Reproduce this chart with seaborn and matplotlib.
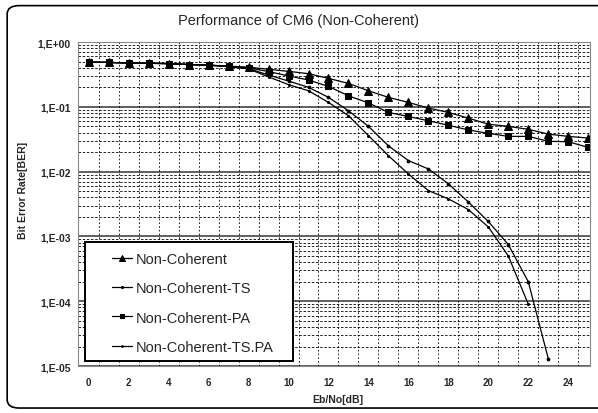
import matplotlib
matplotlib.use("Agg")
import matplotlib.pyplot as plt
import matplotlib.ticker as mticker
from matplotlib.patches import FancyBboxPatch, Rectangle
import numpy as np
import pandas as pd
import seaborn as sns

# Eb/No [dB] and BER values
ebno = list(range(26))
ber_nc = [0.49, 0.485, 0.475, 0.47, 0.465, 0.45, 0.44, 0.425, 0.41, 0.38,
          0.353, 0.325, 0.275, 0.23, 0.177, 0.14, 0.117, 0.096, 0.082, 0.067,
          0.054, 0.050, 0.045, 0.038, 0.035, 0.033]
ber_pa = [0.49, 0.485, 0.475, 0.47, 0.465, 0.45, 0.44, 0.42, 0.40, 0.35,
          0.30, 0.259, 0.207, 0.148, 0.115, 0.082, 0.071, 0.061, 0.052, 0.044,
          0.039, 0.035, 0.035, 0.0294, 0.0289, 0.0237]
ebno_ts = list(range(24))
ber_ts = [0.49, 0.485, 0.475, 0.47, 0.465, 0.45, 0.44, 0.42, 0.39, 0.31,
          0.25, 0.20, 0.14, 0.087, 0.050, 0.025, 0.0148, 0.011, 0.0065, 0.0034,
          0.0017, 0.00075, 0.0002, 0.000013]
ebno_tspa = list(range(23))
ber_tspa = [0.49, 0.485, 0.475, 0.47, 0.465, 0.45, 0.44, 0.42, 0.385, 0.29,
            0.22, 0.177, 0.117, 0.073, 0.036, 0.0176, 0.0092, 0.0051, 0.0038, 0.0026,
            0.0014, 0.0005, 0.00009]
labels = ["Non-Coherent", "Non-Coherent-TS", "Non-Coherent-PA", "Non-Coherent-TS.PA"]
ytick_labels = ["1,E+00", "1,E-01", "1,E-02", "1,E-03", "1,E-04", "1,E-05"]

sns.set_theme(style="white")
plt.rcParams["font.family"] = ["Liberation Sans", "DejaVu Sans"]

fig = plt.figure(figsize=(5.98, 4.14), dpi=100)
ax = fig.add_axes([0.130, 0.1135, 0.857, 0.7825])

series = [
    (ebno, ber_nc, "^", 5.5),
    (ebno_ts, ber_ts, ".", 4),
    (ebno, ber_pa, "s", 3.8),
    (ebno_tspa, ber_tspa, ".", 3),
]
for (xs, ys, mk, ms), lab in zip(series, labels):
    sns.lineplot(x=xs, y=ys, ax=ax, color="black", lw=0.9, marker=mk,
                 markersize=ms, markeredgecolor="black", label=lab)

ax.set_yscale("log")
ax.set_ylim(1e-5, 1)
ax.set_xlim(-0.55, 25.1)

# grid: solid at decades, dashed minors, dashed verticals between categories
for k in range(-5, 1):
    ax.axhline(10.0 ** k, color="#444444", lw=1.2, zorder=0)
for k in range(-5, 0):
    for m in range(2, 10):
        ax.axhline(m * 10.0 ** k, color="black", lw=0.6, ls=(0, (3, 2)), zorder=0)
for v in np.arange(0.5, 25, 1.0):
    ax.axvline(v, color="black", lw=0.6, ls=(0, (2, 2.5)), zorder=0)

ax.set_yticks([10.0 ** k for k in range(0, -6, -1)])
ax.set_yticklabels(ytick_labels, fontsize=7.5, fontweight="bold")
ax.yaxis.set_minor_locator(mticker.NullLocator())
ax.set_xticks(range(0, 25, 2))
ax.set_xticklabels([str(t) for t in range(0, 25, 2)], fontsize=7, fontweight="bold")
ax.tick_params(axis="y", length=0, pad=5)
ax.tick_params(axis="x", length=0, pad=8)
for s in ax.spines.values():
    s.set_color("#888888")
    s.set_linewidth(0.8)
ax.set_xlabel("")
ax.set_ylabel("")

# legend: white box drawn by hand, entries placed inside it
ax.add_patch(Rectangle((0.0137, 0.0154), 0.406, 0.368, transform=ax.transAxes,
                       facecolor="white", edgecolor="black", lw=1.4, zorder=5))
leg = ax.legend(loc="upper left", bbox_to_anchor=(0.066, 0.352), fontsize=10.5,
                frameon=False, labelspacing=1.05, handlelength=1.4,
                handletextpad=0.25, borderpad=0, borderaxespad=0,
                markerscale=0.75)
leg.set_zorder(6)

fig.text(0.50, 0.950, "Performance of CM6 (Non-Coherent)", ha="center",
         va="center", fontsize=10.5)
fig.text(0.565, 0.034, "Eb/No[dB]", ha="center", va="center", fontsize=7.5,
         fontweight="bold")
fig.text(0.038, 0.54, "Bit Error Rate[BER]", ha="center", va="center",
         rotation=90, fontsize=7.5, fontweight="bold")

border = FancyBboxPatch((0.012, 0.012), 1.05, 0.972, transform=fig.transFigure,
                        boxstyle="round,pad=0,rounding_size=0.02",
                        fill=False, edgecolor="black", lw=1.2)
fig.patches.append(border)

fig.savefig("out.png", dpi=100)
